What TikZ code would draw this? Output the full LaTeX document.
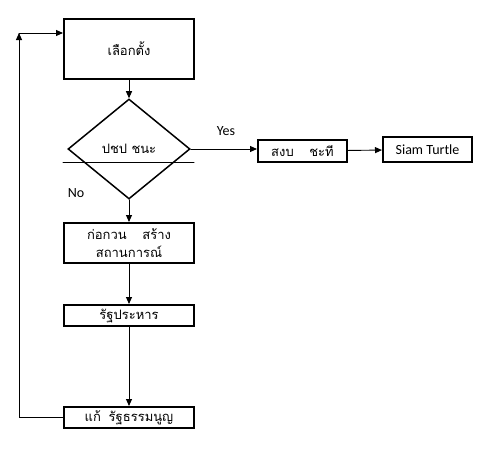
\documentclass[tikz,border=0pt]{standalone}
\usepackage{fontspec}
\setmainfont{Carlito}
\newfontfamily\thaifont[Script=Thai]{Loma}
\usetikzlibrary{arrows.meta,shapes.geometric}

\begin{document}
\begin{tikzpicture}[x=1pt,y=-1pt,>={Triangle[length=7pt,width=6pt]},line cap=round,line join=miter]
\useasboundingbox[fill=white] (0,0) rectangle (482,466);
\tikzset{stepbox/.style={draw=black,line width=2pt,inner sep=0pt,align=center,font=\thaifont\fontsize{13}{18}\selectfont},decide/.style={draw=black,line width=1.5pt,shape=diamond,inner sep=0pt,minimum width=122pt,minimum height=100pt,font=\thaifont\fontsize{13}{18}\selectfont},flow/.style={draw=black,line width=0.9pt,->},tag/.style={font=\fontsize{14}{16}\selectfont}}
\node[stepbox,minimum width=130pt,minimum height=60pt] (vote) at (129,49) {เลือกตั้ง};
\node[decide] (win) at (129,149) {ปชป ชนะ};
\draw[line width=1pt] (63,162) -- (194,162);
\node[stepbox,minimum width=89pt,minimum height=22pt] (calm) at (302.5,151) {สงบ\hspace{1.2em}ชะที};
\node[stepbox,minimum width=89pt,minimum height=25pt,font=\fontsize{14}{16}\selectfont] (turtle) at (427.5,149.5) {Siam Turtle};
\node[stepbox,minimum width=130pt,minimum height=40pt] (riot) at (129,243) {ก่อกวน\hspace{1.2em}สร้าง\\สถานการณ์};
\node[stepbox,minimum width=130pt,minimum height=21pt] (coup) at (129,315.5) {รัฐประหาร};
\node[stepbox,minimum width=130pt,minimum height=21pt] (fix) at (129,417.5) {แก้\hspace{0.6em}รัฐธรรมนูญ};
\coordinate (back) at (19,33);
\node[tag] (yes) at (226,131) {Yes};
\node[tag] (no) at (76,193) {No};
\draw[flow] (vote) -- (win);
\draw[flow] (win.east) -- (calm.west|-win.east);
\draw[flow] (calm) -- (turtle);
\draw[flow] (win) -- (riot);
\draw[flow] (riot) -- (coup);
\draw[flow] (coup) -- (fix);
\draw[flow] (fix.west) -| (back);
\draw[flow] (back) -- (back-|vote.west);
\end{tikzpicture}
\end{document}
